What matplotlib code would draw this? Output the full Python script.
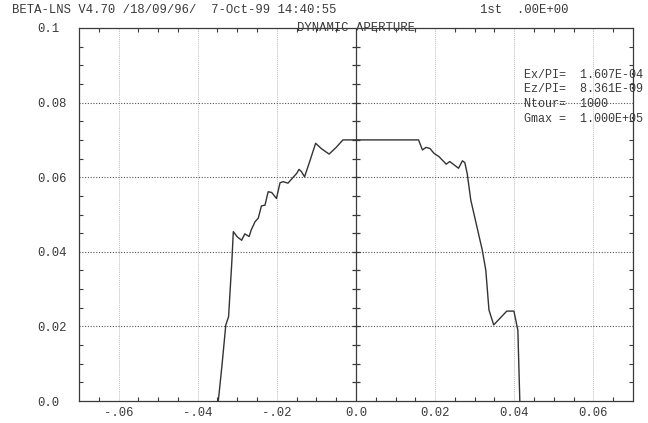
import matplotlib
matplotlib.use("Agg")
import matplotlib.pyplot as plt
import matplotlib.transforms as mtransforms
import numpy as np

# Dynamic aperture boundary (x, z) in metres
x_pos = [-0.0348, -0.0339, -0.0329, -0.0322, -0.0318, -0.0314, -0.0310,
         -0.0300, -0.0289, -0.0281, -0.0270, -0.0265, -0.0255, -0.0247,
         -0.0239, -0.0230, -0.0222, -0.0213, -0.0201, -0.0192, -0.0184,
         -0.0172, -0.0161, -0.0150, -0.0144, -0.0138, -0.0130, -0.0117,
         -0.0102, -0.0088, -0.0068, -0.0050, -0.0033, 0.0158, 0.0168,
         0.0177, 0.0187, 0.0197, 0.0210, 0.0218, 0.0228, 0.0237, 0.0248,
         0.0259, 0.0269, 0.0275, 0.0281, 0.0290, 0.0319, 0.0328, 0.0336,
         0.0348, 0.0381, 0.0399, 0.0409, 0.0414]
z_pos = [0.0000, 0.0092, 0.0204, 0.0226, 0.0298, 0.0369, 0.0454,
         0.0440, 0.0431, 0.0448, 0.0441, 0.0458, 0.0481, 0.0490,
         0.0523, 0.0525, 0.0561, 0.0559, 0.0543, 0.0585, 0.0588,
         0.0584, 0.0597, 0.0610, 0.0621, 0.0615, 0.0601, 0.0642,
         0.0691, 0.0677, 0.0662, 0.0680, 0.0700, 0.0700, 0.0673,
         0.0680, 0.0677, 0.0664, 0.0655, 0.0646, 0.0635, 0.0642, 0.0633,
         0.0624, 0.0644, 0.0639, 0.0610, 0.0539, 0.0405, 0.0351, 0.0244,
         0.0204, 0.0241, 0.0241, 0.0190, 0.0000]

x_ticks = [-0.06, -0.04, -0.02, 0.0, 0.02, 0.04, 0.06]
x_labels = ["-.06", "-.04", "-.02", "0.0", "0.02", "0.04", "0.06"]
y_ticks = [0.0, 0.02, 0.04, 0.06, 0.08, 0.1]
y_labels = ["0.0", "0.02", "0.04", "0.06", "0.08", "0.1"]

header_left = "BETA-LNS V4.70 /18/09/96/  7-Oct-99 14:40:55"
header_right = "1st  .00E+00"
title = "DYNAMIC APERTURE"
params = ["Ex/PI=  1.607E-04",
          "Ez/PI=  8.361E-09",
          "Ntour=  1000",
          "Gmax =  1.000E+05"]

ink = "#3a3a3a"
plt.rcParams["font.family"] = ["Liberation Mono", "DejaVu Sans Mono"]
plt.rcParams["font.size"] = 8.8

fig = plt.figure(figsize=(6.48, 4.23), dpi=100)
ax = fig.add_axes([79 / 648, 22 / 423, 554 / 648, 373 / 423])
ax.set_xlim(-0.07, 0.07)
ax.set_ylim(0.0, 0.1)

# grid: faint verticals, dotted horizontals
for xv in x_ticks:
    if xv != 0.0:
        ax.axvline(xv, color="#bdbdbd", lw=0.7, ls=(0, (1, 1)), zorder=1)
for yv in y_ticks[1:-1]:
    ax.axhline(yv, color="#555555", lw=0.8, ls=(0, (1, 1.5)), zorder=1)

# central axis with crossing ticks
ax.axvline(0.0, color=ink, lw=0.9, zorder=2)
ymin_ticks = np.arange(0.005, 0.1, 0.005)
ax.plot(np.zeros_like(ymin_ticks), ymin_ticks, ls="none", marker="_",
        ms=6, mew=0.9, color=ink, zorder=2)

ax.plot(x_pos, z_pos, color="#333333", lw=1.0, zorder=3)

for sp in ax.spines.values():
    sp.set_color(ink)
    sp.set_linewidth(0.9)

ax.set_xticks(x_ticks)
ax.set_xticklabels(x_labels)
ax.set_xticks(np.arange(-0.065, 0.0651, 0.005), minor=True)
ax.set_yticks(y_ticks)
ax.set_yticklabels(y_labels)
ax.set_yticks(np.arange(0.005, 0.1, 0.005), minor=True)
ax.tick_params(which="both", direction="in", top=True, right=True,
               color=ink, width=0.8, labelcolor=ink)
ax.tick_params(which="major", length=0)
ax.tick_params(which="minor", length=3)
ax.tick_params(axis="x", pad=4)
ax.tick_params(axis="y", pad=30)
for lbl in ax.get_yticklabels():
    lbl.set_horizontalalignment("left")

# title sits on the top frame line
title_tr = ax.transAxes + mtransforms.ScaledTranslation(0, -2 / 72, fig.dpi_scale_trans)
ax.text(0.5, 1.0, title, transform=title_tr, ha="center", va="baseline",
        color=ink, clip_on=False)

fig.text(12 / 648, 1 - 10 / 423, header_left, ha="left", va="center", color=ink)
fig.text(480 / 648, 1 - 10 / 423, header_right, ha="left", va="center", color=ink)
for i, line in enumerate(params):
    fig.text(524 / 648, 1 - (75 + 14.5 * i) / 423, line, ha="left",
             va="center", color=ink, fontsize=8.5)

fig.savefig("out.png", dpi=100)
